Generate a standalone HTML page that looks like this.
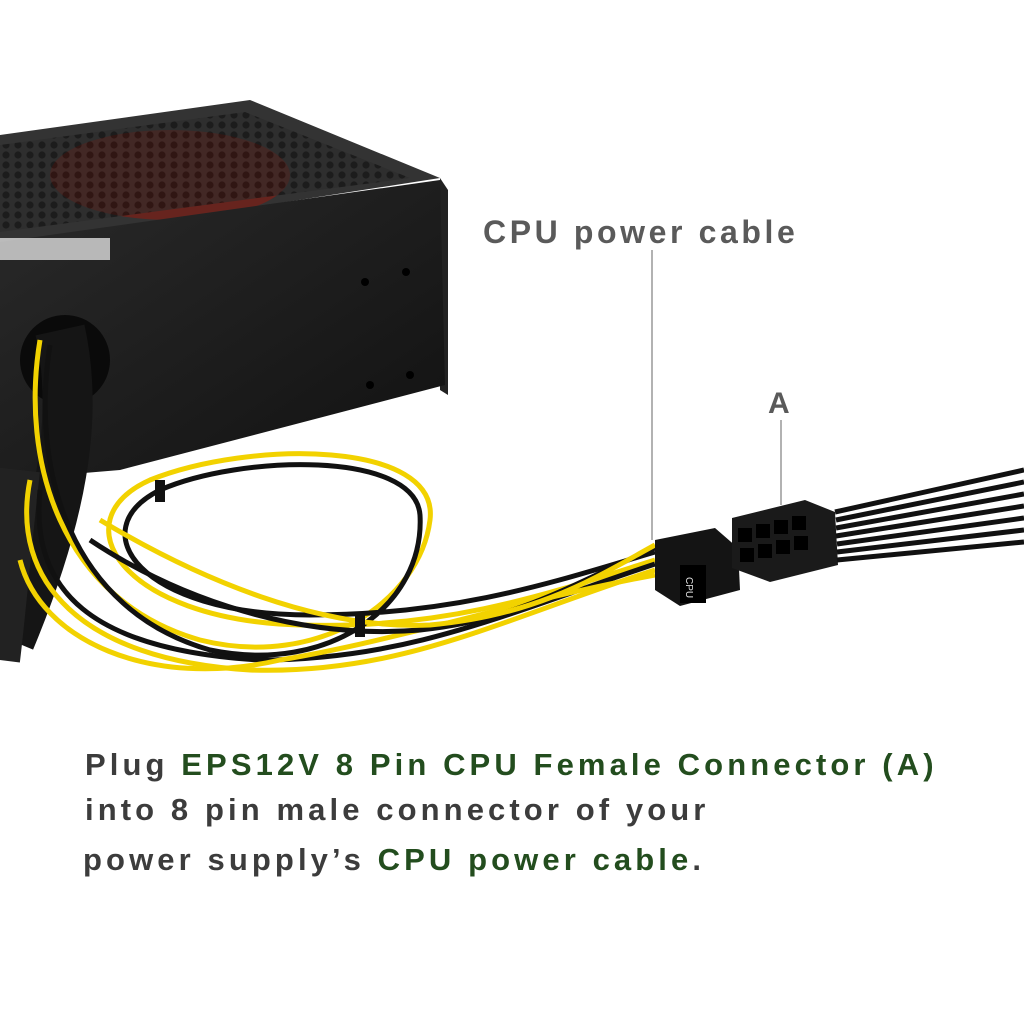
<!DOCTYPE html>
<html><head><meta charset="utf-8"><style>
body{margin:0;background:#fff;}
.t{font-family:"Liberation Sans",sans-serif;font-weight:bold;}
</style></head><body>
<svg width="1024" height="1024" viewBox="0 0 1024 1024" xmlns="http://www.w3.org/2000/svg">
<defs>
<pattern id="hex" width="12" height="10" patternUnits="userSpaceOnUse">
<rect width="12" height="10" fill="#2a2a2a"/>
<circle cx="6" cy="5" r="3.6" fill="#0c0c0c"/>
</pattern>
<linearGradient id="front" x1="0" y1="0" x2="1" y2="1">
<stop offset="0" stop-color="#2a2a2a"/><stop offset="1" stop-color="#111"/>
</linearGradient>
</defs>
<rect width="1024" height="1024" fill="#fff"/>
<polygon points="0,135 250,100 440,178 10,245 0,245" fill="#333"/>
<ellipse cx="170" cy="175" rx="120" ry="45" fill="#8a1a10" opacity="0.6"/>
<polygon points="0,145 245,112 410,178 0,232" fill="url(#hex)" opacity="0.6"/>
<polygon points="440,178 448,190 448,395 440,390" fill="#222"/>
<polygon points="0,242 440,180 445,385 120,470 0,480" fill="url(#front)"/>
<rect x="0" y="238" width="110" height="22" fill="#ddd" opacity="0.8"/>
<circle cx="365" cy="282" r="4" fill="#000"/><circle cx="406" cy="272" r="4" fill="#000"/>
<circle cx="370" cy="385" r="4" fill="#000"/><circle cx="410" cy="375" r="4" fill="#000"/>
<ellipse cx="65" cy="360" rx="45" ry="45" fill="#0a0a0a"/>
<path d="M60 330 C 80 420 60 520 10 640" stroke="#151515" stroke-width="50" fill="none"/>
<path d="M20 470 C 10 560 5 620 0 660" stroke="#222" stroke-width="40" fill="none"/>
<g fill="none" stroke-width="5">
<path d="M40 340 C 20 460 60 600 200 640 C 320 670 420 600 430 520 C 440 440 250 440 150 480 C 60 520 120 620 300 625 C 450 630 560 590 655 560" stroke="#f2d200"/>
<path d="M50 345 C 30 470 70 610 210 650 C 330 675 425 605 420 515 C 415 450 240 455 160 490 C 80 530 140 615 310 615 C 460 615 560 580 655 552" stroke="#111"/>
<path d="M30 480 C 10 580 80 660 250 670 C 400 675 500 620 655 570" stroke="#f2d200"/>
<path d="M40 490 C 30 590 90 650 260 660 C 410 660 510 612 655 564" stroke="#111"/>
<path d="M20 560 C 40 640 150 690 280 660 C 400 640 520 600 655 575" stroke="#f2d200"/>
<path d="M90 540 C 180 600 300 640 420 630 C 520 620 580 580 655 548" stroke="#111"/>
<path d="M100 520 C 200 580 320 630 430 625 C 540 615 600 575 655 545" stroke="#f2d200"/>
</g>
<rect x="355" y="615" width="10" height="22" fill="#111"/>
<rect x="155" y="480" width="10" height="22" fill="#111"/>
<polygon points="655,540 715,528 738,548 740,590 680,606 655,590" fill="#141414"/>
<rect x="680" y="565" width="26" height="38" fill="#000"/>
<text x="685" y="590" font-family="Liberation Sans" font-size="10" fill="#ddd" transform="rotate(90 692 584)">CPU</text>
<polygon points="732,518 805,500 835,512 838,565 770,582 732,568" fill="#1a1a1a"/>
<g fill="#000"><rect x="738" y="528" width="14" height="14"/><rect x="756" y="524" width="14" height="14"/><rect x="774" y="520" width="14" height="14"/><rect x="792" y="516" width="14" height="14"/><rect x="740" y="548" width="14" height="14"/><rect x="758" y="544" width="14" height="14"/><rect x="776" y="540" width="14" height="14"/><rect x="794" y="536" width="14" height="14"/></g>
<g stroke="#111" stroke-width="5" fill="none">
<path d="M835 512 L1024 470"/><path d="M836 520 L1024 482"/><path d="M836 528 L1024 494"/><path d="M836 536 L1024 506"/>
<path d="M837 544 L1024 518"/><path d="M837 552 L1024 530"/><path d="M837 560 L1024 542"/>
</g>
<line x1="652" y1="250" x2="652" y2="540" stroke="#999" stroke-width="1.5"/>
<line x1="781" y1="420" x2="781" y2="505" stroke="#999" stroke-width="1.5"/>
<text class="t" x="483" y="243" font-size="32" fill="#5a5a5a" letter-spacing="3.6">CPU power cable</text>
<text class="t" x="768" y="413" font-size="30" fill="#5a5a5a">A</text>
<text class="t" x="85" y="775" font-size="31" fill="#3c3c3c" letter-spacing="4.1">Plug <tspan fill="#234d1e">EPS12V 8 Pin CPU Female Connector (A)</tspan></text>
<text class="t" x="85" y="820" font-size="31" fill="#3c3c3c" letter-spacing="4.1">into 8 pin male connector of your</text>
<text class="t" x="83" y="870" font-size="31" fill="#3c3c3c" letter-spacing="4.1">power supply’s <tspan fill="#234d1e">CPU power cable</tspan>.</text>
</svg>
</body></html>
